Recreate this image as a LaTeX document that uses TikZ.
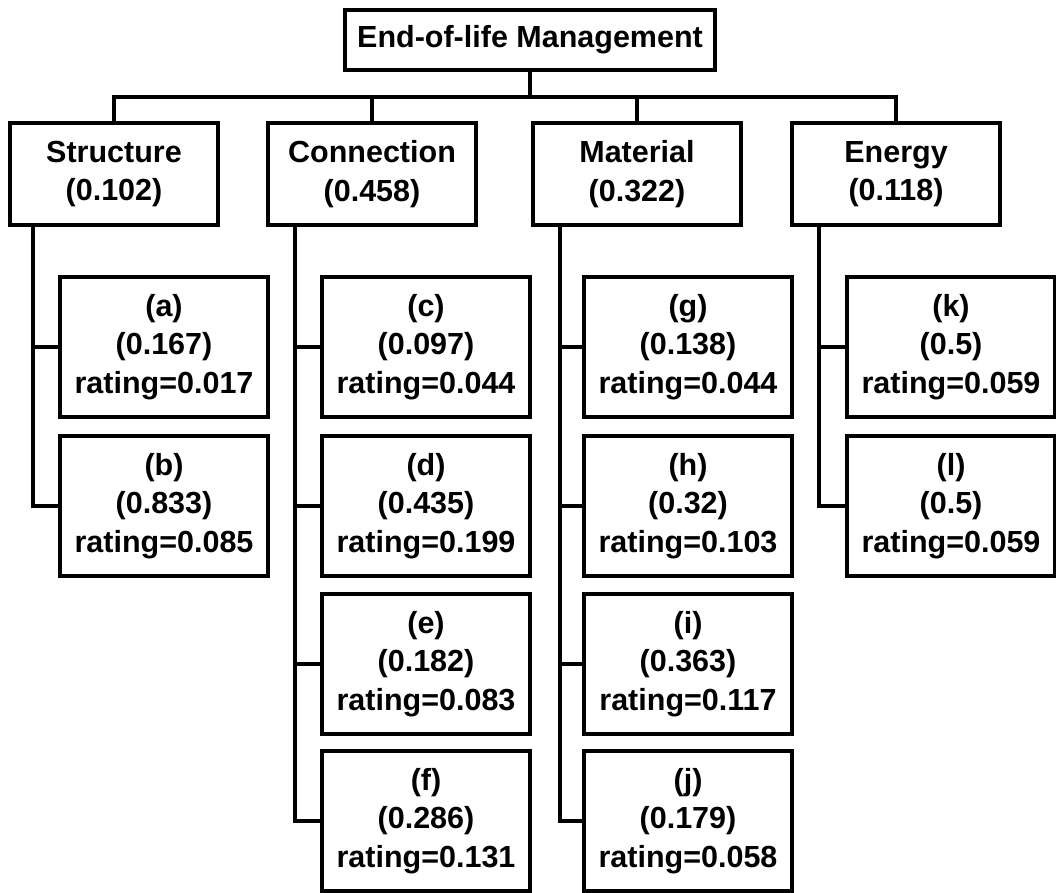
\documentclass[tikz,border=0pt]{standalone}
\usepackage{fontspec}
\setmainfont{Liberation Sans}
\begin{document}
\begin{tikzpicture}[x=1pt,y=-1pt,
  every node/.style={font=\bfseries\fontsize{30.5}{38.5}\selectfont, align=center, inner sep=0pt},
  box/.style={draw, line width=3.4pt, rectangle},
  rootbox/.style={box, minimum width=370pt, minimum height=60pt},
  critbox/.style={box, minimum width=208pt, minimum height=102pt},
  leafbox/.style={box, minimum width=208pt, minimum height=140pt},
  link/.style={line width=3.4pt, line cap=rect}]
\useasboundingbox (0,0) rectangle (1056,892);

% top goal
\node[rootbox] (root) at (530,40) {End-of-life Management};

% criteria
\node[critbox] (S) at (114,174) {Structure\\(0.102)};
\node[critbox] (C) at (372,174) {Connection\\(0.458)};
\node[critbox] (M) at (637,174) {Material\\(0.322)};
\node[critbox] (E) at (896,174) {Energy\\(0.118)};

% sub-criteria
\node[leafbox] (a) at (164,347) {(a)\\(0.167)\\rating=0.017};
\node[leafbox] (b) at (164,506) {(b)\\(0.833)\\rating=0.085};

\node[leafbox] (c) at (426,347) {(c)\\(0.097)\\rating=0.044};
\node[leafbox] (d) at (426,506) {(d)\\(0.435)\\rating=0.199};
\node[leafbox] (e) at (426,664) {(e)\\(0.182)\\rating=0.083};
\node[leafbox] (f) at (426,821) {(f)\\(0.286)\\rating=0.131};

\node[leafbox] (g) at (688,347) {(g)\\(0.138)\\rating=0.044};
\node[leafbox] (h) at (688,506) {(h)\\(0.32)\\rating=0.103};
\node[leafbox] (i) at (688,664) {(i)\\(0.363)\\rating=0.117};
\node[leafbox] (j) at (688,821) {(j)\\(0.179)\\rating=0.058};

\node[leafbox] (k) at (951,347) {(k)\\(0.5)\\rating=0.059};
\node[leafbox] (l) at (951,506) {(l)\\(0.5)\\rating=0.059};

% bus joining the goal to the criteria
\coordinate (bus) at (0,97);
\draw[link] (root.south) -- (root.south |- bus);
\draw[link] (S.north) -- (S.north |- bus) -- (E.north |- bus) -- (E.north);
\draw[link] (C.north) -- (C.north |- bus);
\draw[link] (M.north) -- (M.north |- bus);

% spines down the left of each criterion
\coordinate (sS) at (33,0);
\coordinate (sC) at (295,0);
\coordinate (sM) at (560,0);
\coordinate (sE) at (819,0);

\draw[link] (S.south -| sS) -- (sS |- b.west) -- (b.west);
\draw[link] (sS |- a.west) -- (a.west);

\draw[link] (C.south -| sC) -- (sC |- f.west) -- (f.west);
\draw[link] (sC |- c.west) -- (c.west);
\draw[link] (sC |- d.west) -- (d.west);
\draw[link] (sC |- e.west) -- (e.west);

\draw[link] (M.south -| sM) -- (sM |- j.west) -- (j.west);
\draw[link] (sM |- g.west) -- (g.west);
\draw[link] (sM |- h.west) -- (h.west);
\draw[link] (sM |- i.west) -- (i.west);

\draw[link] (E.south -| sE) -- (sE |- l.west) -- (l.west);
\draw[link] (sE |- k.west) -- (k.west);
\end{tikzpicture}
\end{document}
